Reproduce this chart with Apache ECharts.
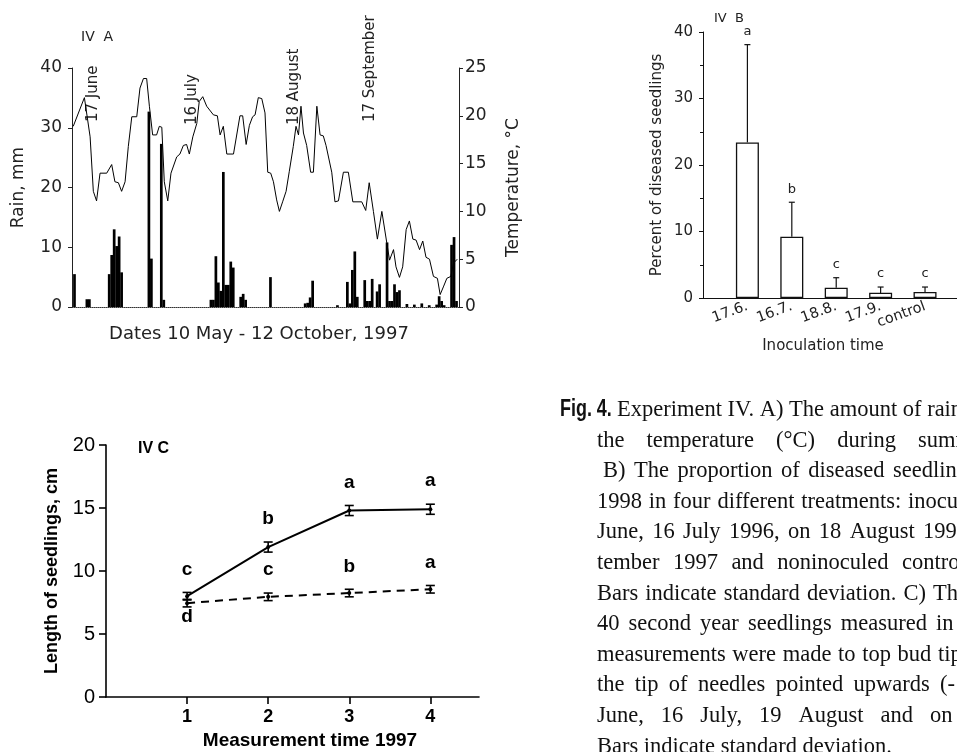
<!DOCTYPE html>
<html><head><meta charset="utf-8">
<script src="https://cdn.jsdelivr.net/npm/echarts@6/dist/echarts.min.js"></script>
<style>html,body{margin:0;padding:0;background:#fff}#c{width:957px;height:752px}</style>
</head><body><div id="c"></div>
<script>
// ---------- Panel IV A: rain (mm) and temperature (°C), days since 10 May 1997 ----------
const rainDays = [1,6,7,15,16,17,18,19,20,31,32,36,37,56,57,58,59,60,61,62,63,64,65,68,69,70,80,94,95,96,97,107,111,112,113,114,115,118,119,120,121,123,124,127,128,129,130,131,132,135,138,141,144,147,148,149,150,153,154,155];
const rainMm   = [5.5,1.3,1.3,5.5,8.7,13.0,10.2,11.8,5.8,32.7,8.1,27.3,1.2,1.2,1.2,8.5,4.1,2.7,22.6,3.7,3.7,7.6,6.6,1.7,2.2,1.2,5.0,0.6,0.7,1.6,4.4,0.3,4.2,0.6,6.2,9.3,1.7,4.5,1.0,1.0,4.7,2.6,3.8,10.8,1.0,1.0,3.8,2.5,2.8,0.5,0.4,0.6,0.3,0.4,1.8,1.0,0.3,10.4,11.7,1.0];
const tempDays = [0.5,5.0,7.3,8.6,9.9,11.3,14.0,16.0,17.3,18.7,20.0,21.4,22.7,24.1,26.1,27.4,28.8,30.1,31.2,32.5,34.1,35.2,36.2,37.2,38.6,39.9,42.2,43.5,44.9,46.2,47.3,48.7,50.3,51.3,52.7,54.3,57.0,58.6,59.7,61.0,62.4,65.1,67.7,68.8,70.2,71.5,72.8,73.8,75.1,76.5,77.8,78.9,80.1,81.2,82.5,83.6,84.9,86.3,87.6,89.2,90.3,91.3,92.3,93.3,94.6,96.2,97.3,98.7,100.0,101.3,102.4,104.7,106.0,107.4,109.4,111.4,113.2,116.8,118.4,119.8,121.5,123.1,124.9,126.9,128.0,129.6,130.6,132.0,133.3,134.7,136.0,137.4,138.7,140.1,141.4,142.7,144.1,145.7,147.3,148.4,149.7,151.1,152.7,153.8,155.3];
const tempC    = [18.9,21.9,17.8,12.1,11.1,14.0,14.0,14.9,13.1,13.0,12.1,13.1,16.8,19.9,19.9,22.9,23.9,23.9,21.0,18.0,18.0,18.9,18.8,13.1,11.1,14.0,15.7,16.0,16.9,17.0,16.0,17.8,19.2,21.5,22.0,21.0,20.1,20.0,18.0,18.9,16.0,16.0,20.0,20.0,17.0,19.0,19.9,20.1,21.9,21.8,20.3,14.1,14.0,13.1,11.2,10.0,11.0,12.1,14.2,16.8,18.9,18.0,21.0,18.2,16.9,14.1,14.1,21.0,18.0,17.9,16.9,14.1,11.0,11.1,14.1,14.1,11.0,11.0,10.1,13.0,10.0,7.1,10.0,6.7,4.9,6.0,4.2,3.1,4.2,8.1,9.0,7.1,7.0,6.0,6.9,5.2,5.0,3.2,3.0,1.3,2.1,3.0,3.2,4.6,5.0];
const dateMarks = ['17 June','16 July','18 August','17 September'];

// ---------- Panel IV B: percent of diseased seedlings ----------
const inocCategories = ['17.6.','16.7.','18.8.','17.9.','control'];
const diseasedPct = [23.4, 9.2, 1.55, 0.8, 0.9];
const diseasedSD  = [14.7, 5.2, 1.5, 0.85, 0.75];
const diseasedLetters = ['a','b','c','c','c'];

// ---------- Panel IV C: length of seedlings (cm) ----------
const measureTimes = [1,2,3,4];
const lengthSolid  = [8.0, 11.9, 14.8, 14.9];
const sdSolid      = [0.3, 0.4, 0.4, 0.4];
const lettersSolid = ['c','b','a','a'];
const lengthDashed = [7.45, 7.95, 8.25, 8.55];
const sdDashed     = [0.3, 0.3, 0.3, 0.3];
const lettersDashed= ['d','c','b','a'];
const lettersDashedBelow = [true,false,false,false];

// ---------- caption text ----------
const captionLines = [
  'Experiment IV. A) The amount of rain',
  'the temperature (°C) during summer',
  'B) The proportion of diseased seedlings',
  '1998 in four different treatments: inoculated',
  'June, 16 July 1996, on 18 August 1996',
  'tember 1997 and noninoculed control',
  'Bars indicate standard deviation. C) The',
  '40 second year seedlings measured in',
  'measurements were made to top bud tip',
  'the tip of needles pointed upwards (-',
  'June, 16 July, 19 August and on',
  'Bars indicate standard deviation.'
];
// layout of caption lines: start x and x of the last visible word (justified lines)
const captionStartX = [617,597,603,597,597,597,597,597,597,597,597,597];
const captionLastWordX = [null,918,893,908,923,902,933,936,938,940,930,null];

// ---------- fonts ----------
const SANS_A = "'DejaVu Sans', sans-serif";
const SANS_C = "'Liberation Sans', Arial, sans-serif";
const SERIF  = "'Liberation Serif', 'Times New Roman', serif";
const INK_A = '#222';

const chart = echarts.init(document.getElementById('c'), null, {renderer:'canvas'});

function errUpRender(params, api){
  const x = api.value(0), v = api.value(1), e = api.value(2);
  const p0 = api.coord([x, v]), p1 = api.coord([x, v + e]);
  const st = {stroke:'#111', lineWidth:1.2};
  return {type:'group', children:[
    {type:'line', shape:{x1:p0[0], y1:p0[1], x2:p1[0], y2:p1[1]}, style:st},
    {type:'line', shape:{x1:p1[0]-3, y1:p1[1], x2:p1[0]+3, y2:p1[1]}, style:st}
  ]};
}
function errBothRender(params, api){
  const x = api.value(0), v = api.value(1), e = api.value(2);
  const pt = api.coord([x, v + e]), pb = api.coord([x, v - e]);
  const st = {stroke:'#000', lineWidth:1.6};
  return {type:'group', children:[
    {type:'line', shape:{x1:pt[0], y1:pt[1], x2:pb[0], y2:pb[1]}, style:st},
    {type:'line', shape:{x1:pt[0]-4.5, y1:pt[1], x2:pt[0]+4.5, y2:pt[1]}, style:st},
    {type:'line', shape:{x1:pb[0]-4.5, y1:pb[1], x2:pb[0]+4.5, y2:pb[1]}, style:st}
  ]};
}

// caption layout (justified lines: uniform word gaps so the last visible word lands where it is in the print)
const CAP_FS = 22.5, captionTop = 410, captionStep = 30.6;
const mctx = document.createElement('canvas').getContext('2d');
mctx.font = CAP_FS + "px 'Liberation Serif'";
const tw = s => mctx.measureText(s).width;
const graphics = [];
graphics.push({type:'text', x:560, y:captionTop, scaleX:0.78,
  style:{text:'Fig. 4.', fontFamily:SANS_C, fontWeight:'bold', fontSize:23, fill:'#111', align:'left', verticalAlign:'middle'}});
captionLines.forEach((line, li) => {
  const words = line.split(' ');
  const x0 = captionStartX[li], xl = captionLastWordX[li];
  let gap = tw(' ');
  if (xl !== null && words.length > 1) {
    let sum = 0; for (let k = 0; k < words.length - 1; k++) sum += tw(words[k]);
    gap = (xl - x0 - sum) / (words.length - 1);
  }
  let x = x0;
  words.forEach(w => {
    graphics.push({type:'text', x:x, y:captionTop + li*captionStep,
      style:{text:w, fontFamily:SERIF, fontSize:CAP_FS, fill:'#111', align:'left', verticalAlign:'middle'}});
    x += tw(w) + gap;
  });
});
// date annotations panel A
const markX = [93.5, 192.5, 294.5, 370.5], markY = [122, 125, 125, 122];
dateMarks.forEach((t,i) => graphics.push({type:'text', x:markX[i], y:markY[i], rotation:Math.PI/2,
  style:{text:t, fontFamily:SANS_A, fontSize:15, fill:INK_A, align:'left', verticalAlign:'middle'}}));

const option = {
  animation:false,
  backgroundColor:'#fff',
  title:[
    {text:'IV  A', left:76, top:25, textStyle:{fontFamily:SANS_A, fontSize:14, fontWeight:'normal', color:INK_A}},
    {text:'IV  B', left:709, top:7, textStyle:{fontFamily:SANS_A, fontSize:13, fontWeight:'normal', color:INK_A}},
    {text:'IV C', left:133, top:436, textStyle:{fontFamily:SANS_C, fontSize:16, fontWeight:'bold', color:'#000'}}
  ],
  grid:[
    {left:72, top:68, width:387, height:239},
    {left:703, top:32, width:254, height:266},
    {left:106, top:445, width:373, height:252}
  ],
  xAxis:[
    {gridIndex:0, type:'value', min:0, max:156, axisLine:{lineStyle:{color:'#333', type:'dotted', width:1}},
     axisTick:{show:false}, axisLabel:{show:false}, splitLine:{show:false},
     name:'Dates 10 May - 12 October, 1997', nameLocation:'middle', nameGap:18,
     nameTextStyle:{fontFamily:SANS_A, fontSize:18, color:INK_A, padding:[0,13,0,0]}},
    {gridIndex:1, type:'value', min:0, max:5.72, axisLine:{lineStyle:{color:'#111', width:1}},
     axisTick:{show:true, inside:true, length:6, customValues:[1,2,3,4,5], lineStyle:{color:'#111'}},
     axisLabel:{customValues:[1,2,3,4,5], formatter:v => inocCategories[v-1] || '', rotate:20, margin:8,
       fontFamily:SANS_A, fontSize:14.5, color:INK_A},
     splitLine:{show:false},
     name:'Inoculation time', nameLocation:'middle', nameGap:41,
     nameTextStyle:{fontFamily:SANS_A, fontSize:15, color:INK_A, padding:[0,14,0,0]}},
    {gridIndex:2, type:'value', min:0, max:4.6, axisLine:{lineStyle:{color:'#000', width:1.6}},
     axisTick:{show:true, length:7, customValues:[1,2,3,4], lineStyle:{color:'#000', width:1.6}},
     axisLabel:{customValues:[1,2,3,4], margin:11, fontFamily:SANS_C, fontWeight:'bold', fontSize:18, color:'#000'},
     splitLine:{show:false},
     name:'Measurement time 1997', nameLocation:'middle', nameGap:34,
     nameTextStyle:{fontFamily:SANS_C, fontWeight:'bold', fontSize:19, color:'#000', padding:[0,0,0,35]}}
  ],
  yAxis:[
    {gridIndex:0, type:'value', min:0, max:40, interval:10, position:'left',
     axisLine:{show:true, lineStyle:{color:'#222', width:1}}, axisTick:{show:true, length:4, lineStyle:{color:'#222'}},
     axisLabel:{margin:10, fontFamily:SANS_A, fontSize:17, color:INK_A}, splitLine:{show:false},
     name:'Rain, mm', nameLocation:'middle', nameGap:45, nameTextStyle:{fontFamily:SANS_A, fontSize:17, color:INK_A}},
    {gridIndex:0, type:'value', min:0, max:25, interval:5, position:'right',
     axisLine:{show:true, lineStyle:{color:'#222', width:1}}, axisTick:{show:true, length:4, lineStyle:{color:'#222'}},
     axisLabel:{margin:6, fontFamily:SANS_A, fontSize:17, color:INK_A}, splitLine:{show:false},
     name:'Temperature, °C', nameLocation:'middle', nameRotate:90, nameGap:46,
     nameTextStyle:{fontFamily:SANS_A, fontSize:17, color:INK_A}},
    {gridIndex:1, type:'value', min:0, max:40, interval:10,
     axisLine:{show:true, lineStyle:{color:'#111', width:1}}, axisTick:{show:true, length:4, lineStyle:{color:'#111'}},
     minorTick:{show:true, splitNumber:2, length:3, lineStyle:{color:'#111'}},
     axisLabel:{margin:10, fontFamily:SANS_A, fontSize:15, color:INK_A}, splitLine:{show:false},
     name:'Percent of diseased seedlings', nameLocation:'middle', nameGap:38,
     nameTextStyle:{fontFamily:SANS_A, fontSize:15, color:INK_A}},
    {gridIndex:2, type:'value', min:0, max:20, interval:5,
     axisLine:{show:true, lineStyle:{color:'#000', width:1.6}}, axisTick:{show:true, length:7, lineStyle:{color:'#000', width:1.6}},
     axisLabel:{margin:11, fontFamily:SANS_C, fontSize:20, color:'#000'}, splitLine:{show:false},
     name:'Length of seedlings, cm', nameLocation:'middle', nameGap:45,
     nameTextStyle:{fontFamily:SANS_C, fontWeight:'bold', fontSize:18, color:'#000'}}
  ],
  series:[
    {name:'Rain', type:'bar', xAxisIndex:0, yAxisIndex:0, barWidth:2.7,
     data:rainDays.map((d,i)=>[d, rainMm[i]]), itemStyle:{color:'#000'}},
    {name:'Temperature', type:'line', xAxisIndex:0, yAxisIndex:1, symbol:'none',
     data:tempDays.map((d,i)=>[d, tempC[i]]), lineStyle:{color:'#000', width:1}},
    {name:'Diseased', type:'bar', xAxisIndex:1, yAxisIndex:2, barWidth:23,
     data:diseasedPct.map((v,i)=>[i+1, v]), itemStyle:{color:'#fff', borderColor:'#111', borderWidth:1.3}},
    {name:'Diseased SD', type:'custom', xAxisIndex:1, yAxisIndex:2, renderItem:errUpRender,
     encode:{x:0, y:[1,2]}, data:diseasedPct.map((v,i)=>[i+1, v, diseasedSD[i]]), z:5},
    {name:'Diseased letters', type:'custom', xAxisIndex:1, yAxisIndex:2,
     renderItem:(params, api) => {
       const p = api.coord([api.value(0), api.value(1) + api.value(2)]);
       return {type:'text', x:p[0], y:p[1]-13, style:{text:diseasedLetters[params.dataIndex], fontFamily:SANS_A, fontSize:13, fill:INK_A, align:'center', verticalAlign:'middle'}};
     },
     encode:{x:0, y:[1,2]}, data:diseasedPct.map((v,i)=>[i+1, v, diseasedSD[i]]), z:5},
    {name:'Length solid', type:'line', xAxisIndex:2, yAxisIndex:3, symbol:'circle', symbolSize:4,
     itemStyle:{color:'#000'}, lineStyle:{color:'#000', width:2},
     data:measureTimes.map((t,i)=>[t, lengthSolid[i]])},
    {name:'Length dashed', type:'line', xAxisIndex:2, yAxisIndex:3, symbol:'circle', symbolSize:4,
     itemStyle:{color:'#000'}, lineStyle:{color:'#000', width:2, type:[8,6]},
     data:measureTimes.map((t,i)=>[t, lengthDashed[i]])},
    {name:'SD solid', type:'custom', xAxisIndex:2, yAxisIndex:3, renderItem:errBothRender,
     encode:{x:0, y:[1,2]}, data:measureTimes.map((t,i)=>[t, lengthSolid[i], sdSolid[i]]), z:5},
    {name:'SD dashed', type:'custom', xAxisIndex:2, yAxisIndex:3, renderItem:errBothRender,
     encode:{x:0, y:[1,2]}, data:measureTimes.map((t,i)=>[t, lengthDashed[i], sdDashed[i]]), z:5},
    {name:'Letters solid', type:'custom', xAxisIndex:2, yAxisIndex:3,
     renderItem:(params, api) => {
       const p = api.coord([api.value(0), api.value(1) + api.value(2)]);
       return {type:'text', x:p[0], y:p[1]-23, style:{text:lettersSolid[params.dataIndex], fontFamily:SANS_C, fontWeight:'bold', fontSize:19, fill:'#000', align:'center', verticalAlign:'middle'}};
     },
     encode:{x:0, y:[1,2]}, data:measureTimes.map((t,i)=>[t, lengthSolid[i], sdSolid[i]]), z:5},
    {name:'Letters dashed', type:'custom', xAxisIndex:2, yAxisIndex:3,
     renderItem:(params, api) => {
       const below = lettersDashedBelow[params.dataIndex];
       const p = api.coord([api.value(0), below ? api.value(1) - api.value(2) : api.value(1) + api.value(2)]);
       return {type:'text', x:p[0], y: below ? p[1]+10 : p[1]-23, style:{text:lettersDashed[params.dataIndex], fontFamily:SANS_C, fontWeight:'bold', fontSize:19, fill:'#000', align:'center', verticalAlign:'middle'}};
     },
     encode:{x:0, y:[1,2]}, data:measureTimes.map((t,i)=>[t, lengthDashed[i], sdDashed[i]]), z:5}
  ],
  graphic: graphics
};
chart.setOption(option);
</script>
</body></html>
